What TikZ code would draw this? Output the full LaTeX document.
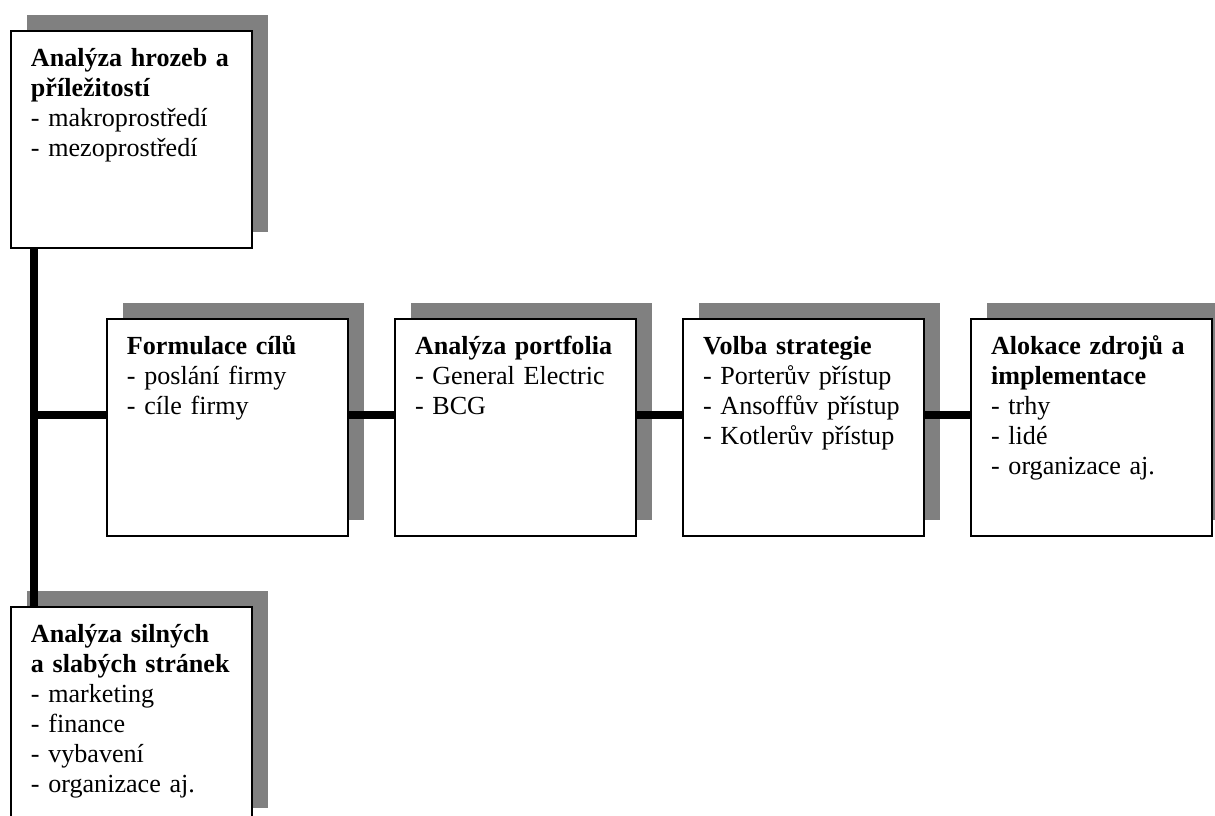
\documentclass[tikz,border=0pt]{standalone}
\usepackage{fontspec}
\setmainfont{Liberation Serif}
\usepackage{tikz}
\usetikzlibrary{positioning, calc, shadows}
\definecolor{stin}{HTML}{808080}

\begin{document}
\begin{tikzpicture}[x=0.46pt, y=-0.46pt,
      krok/.style={draw=black, line width=0.8pt, fill=white, align=left,
        font=\fontsize{12pt}{13.8pt}\selectfont,
        inner xsep=9.2pt, inner ysep=0pt, text width=92.5pt,
        text height=16.1pt, text depth=83.7pt,
        drop shadow={shadow xshift=7.4pt, shadow yshift=7.4pt, fill=stin, opacity=1}},
      spoj/.style={black, line width=3.7pt}]
    \useasboundingbox (0,0) rectangle (1215,816);
    \node[krok] (hrozby) at (131.5,139.5)
      {\textbf{Analýza hrozeb a}\\\textbf{příležitostí}\\- makroprostředí\\- mezoprostředí};
    \node[krok] (formulace) at (227.5,427.5)
      {\textbf{Formulace cílů}\\- poslání firmy\\- cíle firmy};
    \node[krok, right=20.8pt of formulace] (portfolio)
      {\textbf{Analýza portfolia}\\- General Electric\\- BCG};
    \node[krok, right=20.8pt of portfolio] (volba)
      {\textbf{Volba strategie}\\- Porterův přístup\\- Ansoffův přístup\\- Kotlerův přístup};
    \node[krok, right=20.8pt of volba] (alokace)
      {\textbf{Alokace zdrojů a}\\\textbf{implementace}\\- trhy\\- lidé\\- organizace aj.};
    \node[krok] (silne) at (131.5,715.5)
      {\textbf{Analýza silných}\\\textbf{a slabých stránek}\\- marketing\\- finance\\- vybavení\\- organizace aj.};
    % svisla osa a vetve
    \coordinate (spine) at ([xshift=11pt]hrozby.south west);
    \coordinate (vetev) at ([yshift=5.75pt]formulace.west);
    \draw[spoj] (spine) -- (spine |- silne.north);
    \draw[spoj] (spine |- vetev) -- (vetev);
    \foreach \a/\b in {formulace/portfolio, portfolio/volba, volba/alokace}
      \draw[spoj] ([yshift=5.75pt]\a.east) -- ([yshift=5.75pt]\b.west);
  \end{tikzpicture}
\end{document}
